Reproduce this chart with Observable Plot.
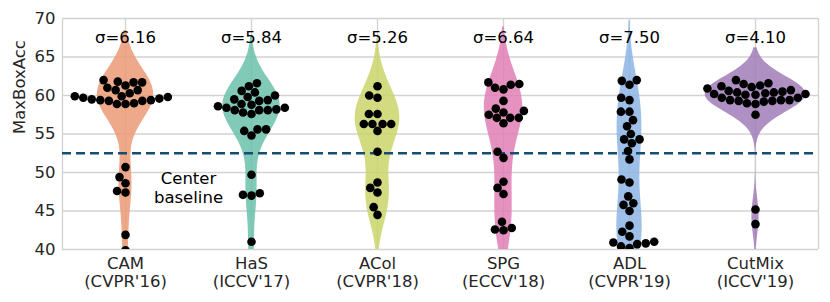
<!DOCTYPE html>
<html><head><meta charset="utf-8">
<script src="https://cdn.jsdelivr.net/npm/d3@7"></script>
<script src="https://cdn.jsdelivr.net/npm/@observablehq/plot@0.6"></script>
<style>body{margin:0;background:#fff}</style>
</head><body><div id="chart"></div>
<script>
const methods = ["CAM", "HaS", "ACol", "SPG", "ADL", "CutMix"];
const venues = ["(CVPR'16)", "(ICCV'17)", "(CVPR'18)", "(ECCV'18)", "(CVPR'19)", "(ICCV'19)"];
const sigmaLabels = ["6.16", "5.84", "5.26", "6.64", "7.50", "4.10"];
const colors = ["#ea9a74", "#6cc1ab", "#cbd56a", "#e17fb6", "#8cb4e4", "#a07db8"];
const yTicks = [40, 45, 50, 55, 60, 65, 70];
const baseline = 52.5;

const camScores = [61.7, 61.3, 60.7, 60.3, 62.0, 60.7, 61.0, 61.7, 61.8,
  59.9, 59.8, 59.5, 59.4, 59.3, 58.9, 58.9, 59.0, 59.3, 59.4, 59.6, 59.7, 59.9,
  50.7, 49.4, 48.6, 47.6, 47.4, 41.9, 39.9];
const hasScores = [61.2, 60.6, 61.6, 60.4, 59.8, 59.4, 59.3, 59.5, 60.0, 58.9,
  58.6, 58.4, 58.1, 57.8, 57.6, 58.1, 58.1, 58.2, 58.4, 58.8,
  55.4, 54.8, 55.6, 55.6, 49.7, 47.1, 47.0, 47.3, 41.0, 38.7];
const acolScores = [61.2, 59.7, 60.0, 57.6, 57.6, 56.3, 56.3, 55.4, 56.3, 56.3,
  52.7, 48.7, 47.4, 48.0, 45.5, 44.5];
const spgScores = [61.7, 61.0, 60.8, 61.4, 61.5, 59.3, 58.3, 57.5, 57.1, 58.0,
  56.4, 57.1, 57.1, 57.8, 52.7, 51.9, 48.8, 48.0, 47.2, 43.6, 42.6, 42.5, 42.8];
const adlScores = [61.9, 61.4, 62.0, 59.7, 59.4, 57.9, 57.9, 56.8, 56.0, 55.0,
  54.3, 53.8, 54.3, 52.8, 51.7, 49.1, 48.7, 46.9, 45.8, 45.0, 46.0, 43.1,
  41.7, 42.3, 41.0, 40.9, 40.4, 40.2, 40.7, 40.8];
const cutmixScores = [61.6, 61.3, 61.1, 60.7, 62.0, 60.2, 60.6, 60.9, 61.2, 61.5,
  60.4, 60.1, 59.7, 59.4, 59.3, 59.2, 58.9, 59.0, 59.3, 59.4, 59.4, 59.7, 60.1, 60.4,
  57.5, 45.2, 43.3, 60.5, 60.3, 60.2];

const scoreLists = [camScores, hasScores, acolScores, spgScores, adlScores, cutmixScores];

// swarm points (sorted ascending like a beeswarm)
const points = [];
methods.forEach((m, i) => {
  scoreLists[i].slice().sort((a, b) => a - b).forEach(v => points.push({method: m, value: v}));
});

// Gaussian KDE per method (Scott bandwidth, cut = 2), scaled by area
let gmax = 0;
const densRows = methods.map((m, i) => {
  const v = scoreLists[i];
  const n = v.length;
  const bw = d3.deviation(v) * Math.pow(n, -0.2);
  const lo = d3.min(v) - 2 * bw, hi = d3.max(v) + 2 * bw;
  const rows = d3.range(100).map(k => {
    const y = lo + (hi - lo) * k / 99;
    let s = 0;
    for (const x of v) { const z = (y - x) / bw; s += Math.exp(-0.5 * z * z); }
    return {method: m, y, d: s / (n * bw * Math.sqrt(2 * Math.PI))};
  });
  gmax = Math.max(gmax, d3.max(rows, r => r.d));
  return rows;
});
const violinRows = densRows.flat().map(r => ({...r, w: r.d / gmax * 0.8}));

const edges = [{fx: methods[0], x: -1}, {fx: methods[methods.length - 1], x: 1}];

const chart = Plot.plot({
  width: 830, height: 302,
  marginLeft: 62, marginRight: 12, marginTop: 18, marginBottom: 53,
  style: {fontFamily: "DejaVu Sans", fontSize: "16.5px", color: "#262626", background: "white"},
  fx: {domain: methods, padding: 0, axis: null},
  x: {domain: [-1, 1], axis: null},
  y: {domain: [40, 70], ticks: yTicks, tickSize: 0, tickPadding: 7, label: null},
  color: {domain: methods, range: colors},
  marks: [
    Plot.ruleY(yTicks, {stroke: "#d2d2d2", strokeWidth: 1.3}),
    Plot.ruleX([0], {stroke: "#d2d2d2", strokeWidth: 1.3}),
    Plot.ruleX(edges, {fx: "fx", x: "x", stroke: "#d2d2d2", strokeWidth: 1.3}),
    Plot.areaX(violinRows, {fx: "method", y: "y", x1: d => -d.w, x2: d => d.w, fill: "method", fillOpacity: 0.85, clip: true}),
    Plot.ruleY([baseline], {stroke: "#154e74", strokeWidth: 2.5, strokeDasharray: "9,5"}),
    Plot.dot(points, Plot.dodgeX({anchor: "middle", padding: 0}, {fx: "method", y: "value", r: 4.3, fill: "black", clip: true})),
    Plot.text(methods, {fx: d => d, x: 0, y: 67.5, text: (d, i) => "σ=" + sigmaLabels[i], fill: "black"}),
    Plot.text(["Center\nbaseline"], {fx: () => methods[0], x: 1, y: 48, fill: "black", lineHeight: 1.15}),
    // category tick labels (two lines) below the frame
    Plot.text(methods, {fx: d => d, x: 0, frameAnchor: "bottom", dy: 7, lineAnchor: "top", lineHeight: 1.09,
      text: (d, i) => `${d}\n${venues[i]}`, fill: "#262626"}),
    // y-axis title
    Plot.text(["MaxBoxAcc"], {fx: () => methods[0], frameAnchor: "left", dx: -43, rotate: -90, fill: "#262626"})
  ]
});
document.getElementById("chart").appendChild(chart);
</script>
</body></html>
